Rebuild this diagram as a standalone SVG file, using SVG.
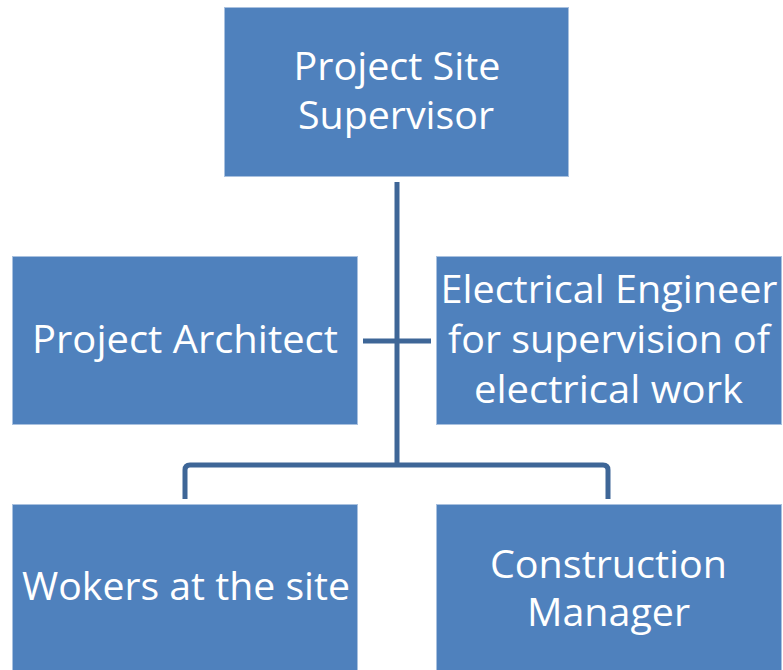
<svg xmlns="http://www.w3.org/2000/svg" width="783" height="670" viewBox="0 0 783 670">
<style>
.box{fill:#4F81BD;stroke:#A9C1DF;stroke-width:1}
.t{font-family:"Open Sans","Liberation Sans",sans-serif;font-size:38px;fill:#FFFFFF;text-anchor:middle}
.c{fill:none;stroke:#3E6697;stroke-width:5;stroke-linejoin:round}
</style>
<rect width="783" height="670" fill="#FFFFFF"/>
<g id="connectors">
<line class="c" x1="397" y1="182" x2="397" y2="465"/>
<line class="c" x1="363" y1="341" x2="431" y2="341"/>
<path class="c" d="M185 499 V470 Q185 465 190 465 H603 Q608 465 608 470 V499"/>
</g>
<g id="n1"><rect class="box" x="224.5" y="7.5" width="344" height="169"/>
<text class="t" x="397" y="80" textLength="207" lengthAdjust="spacingAndGlyphs">Project Site</text>
<text class="t" x="396" y="129" textLength="196" lengthAdjust="spacingAndGlyphs">Supervisor</text></g>
<g id="n2"><rect class="box" x="12.5" y="256.5" width="345" height="168"/>
<text class="t" x="185" y="353" textLength="306" lengthAdjust="spacingAndGlyphs">Project Architect</text></g>
<g id="n3"><rect class="box" x="436.5" y="256.5" width="345" height="168"/>
<text class="t" x="609" y="303" textLength="337" lengthAdjust="spacingAndGlyphs">Electrical Engineer</text>
<text class="t" x="609" y="353" textLength="322" lengthAdjust="spacingAndGlyphs">for supervision of</text>
<text class="t" x="608.5" y="403" textLength="269" lengthAdjust="spacingAndGlyphs">electrical work</text></g>
<g id="n4"><rect class="box" x="12.5" y="504.5" width="345" height="170"/>
<text class="t" x="186" y="600" textLength="328" lengthAdjust="spacingAndGlyphs">Wokers at the site</text></g>
<g id="n5"><rect class="box" x="436.5" y="504.5" width="345" height="170"/>
<text class="t" x="608.5" y="578" textLength="237" lengthAdjust="spacingAndGlyphs">Construction</text>
<text class="t" x="608.5" y="626" textLength="163" lengthAdjust="spacingAndGlyphs">Manager</text></g>
</svg>
